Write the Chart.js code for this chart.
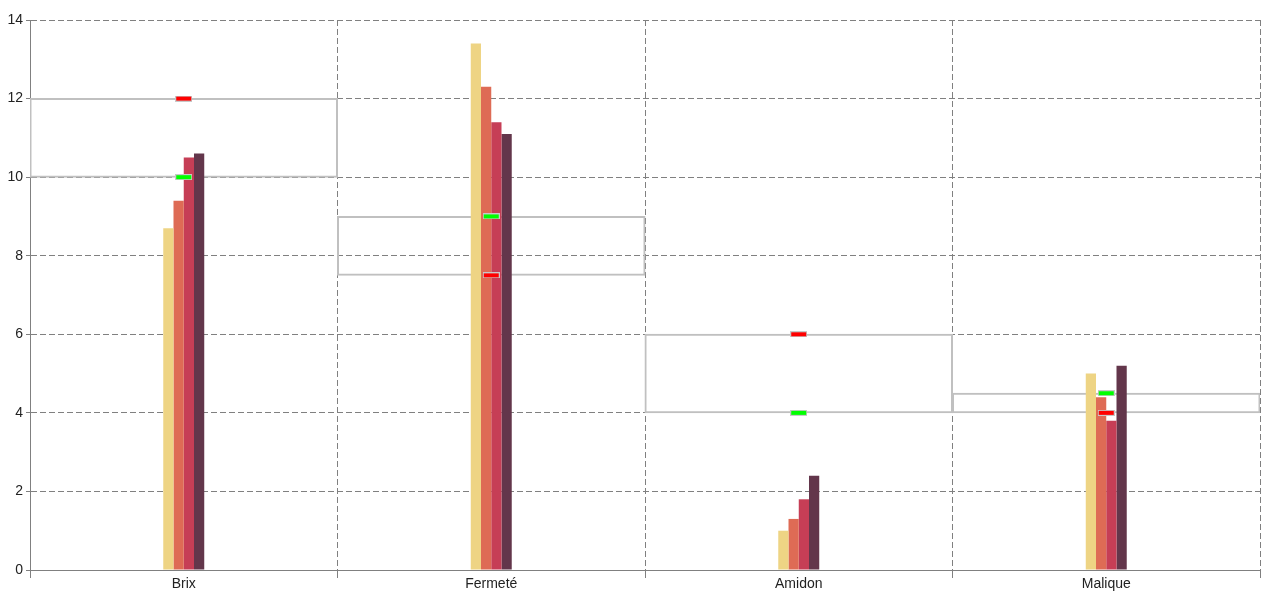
<!DOCTYPE html>
<html>
<head>
<meta charset="utf-8">
<script src="https://cdn.jsdelivr.net/npm/chart.js@4"></script>
<style>
  html, body { margin: 0; padding: 0; background: #fff; }
  #wrap { width: 1280px; height: 600px; }
</style>
</head>
<body>
<div id="wrap"><canvas id="chart"></canvas></div>
<script>
// categories and values
const categories = ['Brix', 'Fermeté', 'Amidon', 'Malique'];
const serie1 = [8.7, 13.4, 1.0, 5.0];
const serie2 = [9.4, 12.3, 1.3, 4.4];
const serie3 = [10.5, 11.4, 1.8, 3.8];
const serie4 = [10.6, 11.1, 2.4, 5.2];
// threshold markers
const redMarks = [12, 7.5, 6, 4];
const greenMarks = [10, 9, 4, 4.5];
const yTicks = [0, 2, 4, 6, 8, 10, 12, 14];

// band between the two markers of each category
const bands = categories.map((c, i) => [Math.min(redMarks[i], greenMarks[i]), Math.max(redMarks[i], greenMarks[i])]);

function markerStyle(fill) {
    const c = document.createElement('canvas');
    c.width = 17; c.height = 6;
    const g = c.getContext('2d');
    g.fillStyle = '#c8c8c8';
    g.fillRect(0, 0, 17, 6);
    g.fillStyle = fill;
    g.fillRect(1, 1, 15, 4);
    return c;
}

const gridColor = '#808080';
const barOpts = { categoryPercentage: 0.1333, barPercentage: 1, order: 2 };

new Chart(document.getElementById('chart'), {
    type: 'bar',
    data: {
        labels: categories,
        datasets: [
            { type: 'line', data: redMarks, showLine: false, pointStyle: markerStyle('#ff0000'), pointRadius: 8, order: 0 },
            { type: 'line', data: greenMarks, showLine: false, pointStyle: markerStyle('#00ff00'), pointRadius: 8, order: 0 },
            { data: serie1, backgroundColor: '#eed484', ...barOpts },
            { data: serie2, backgroundColor: '#de6b55', ...barOpts },
            { data: serie3, backgroundColor: '#c63e56', ...barOpts },
            { data: serie4, backgroundColor: '#63364b', ...barOpts },
            { data: bands, grouped: false, categoryPercentage: 1, barPercentage: 1,
              backgroundColor: 'rgba(0,0,0,0)', borderColor: '#c0c0c0', borderWidth: 1,
              borderSkipped: false, inflateAmount: 0.5, order: 3 }
        ]
    },
    options: {
        responsive: true,
        maintainAspectRatio: false,
        animation: false,
        layout: { padding: { top: 20, right: 20, left: 0, bottom: 0 } },
        plugins: { legend: { display: false }, tooltip: { enabled: false } },
        scales: {
            x: {
                offset: true,
                grid: { offset: true, color: gridColor, tickLength: 8, tickBorderDash: [] },
                border: { color: gridColor, dash: [6, 3] },
                ticks: { color: '#222', font: { family: 'Liberation Sans', size: 14 }, padding: -2 },
                afterFit: s => { s.height = 30; }
            },
            y: {
                min: 0, max: 14,
                afterBuildTicks: s => { s.ticks = yTicks.map(v => ({ value: v })); },
                grid: { color: gridColor, tickLength: 4, tickBorderDash: [] },
                border: { color: gridColor, dash: [6, 3] },
                ticks: { color: '#222', font: { family: 'Liberation Sans', size: 14 }, padding: 3 },
                afterFit: s => { s.width = 30; }
            }
        }
    }
});
</script>
</body>
</html>
